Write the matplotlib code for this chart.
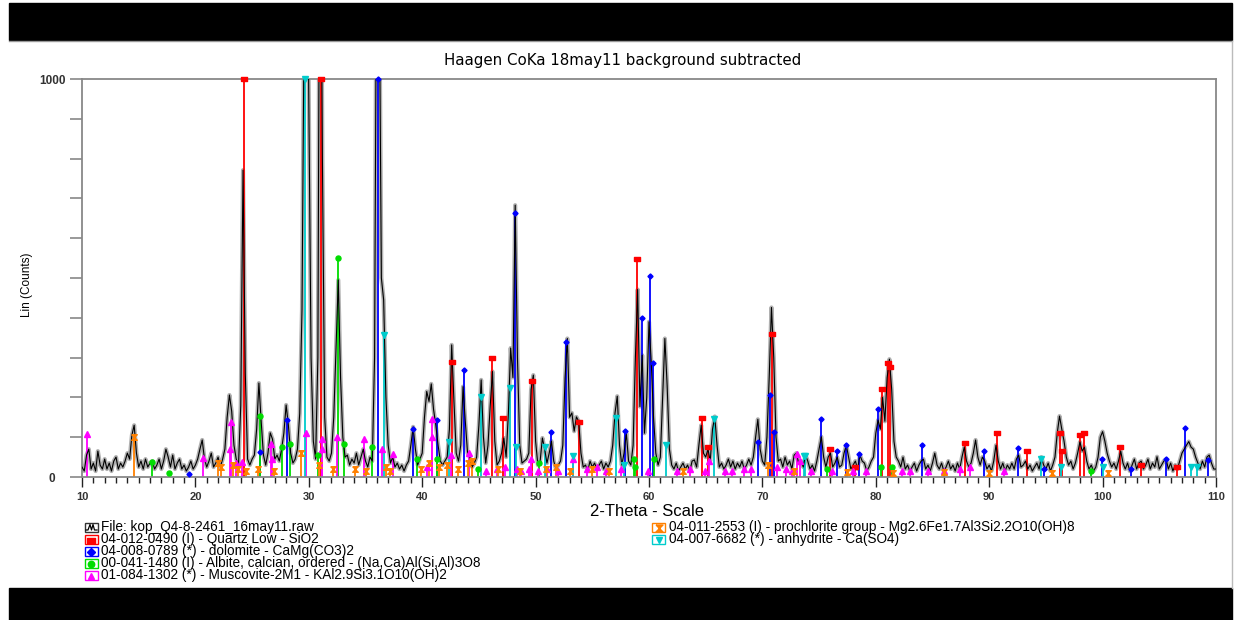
import numpy as np
import matplotlib
matplotlib.use("Agg")
import matplotlib.pyplot as plt
from matplotlib.patches import Rectangle
from matplotlib.lines import Line2D

# measured pattern, counts on a 0.2 deg grid from 10 to 110 (2-theta)
counts = [
    25, 15, 55, 70, 20, 35, 15, 65, 30, 20,          # 10
    45, 20, 35, 15, 40, 50, 20, 35, 25, 40,          # 12
    60, 45, 105, 130, 60, 25, 40, 20, 45, 25,        # 14
    35, 40, 20, 30, 45, 20, 40, 70, 50, 25,          # 16
    55, 20, 35, 45, 20, 30, 15, 25, 40, 20,          # 18
    30, 45, 70, 93, 45, 25, 40, 60, 25, 35,          # 20
    50, 25, 45, 70, 150, 206, 165, 80, 45, 30,       # 22
    180, 771, 260, 45, 30, 45, 55, 120, 236, 140,    # 24
    55, 30, 60, 111, 95, 45, 55, 40, 70, 110,        # 26
    181, 130, 60, 35, 45, 70, 160, 420, 1200, 1600,  # 28
    950, 300, 90, 45, 300, 1800, 800, 150, 50, 40,   # 30
    60, 150, 320, 495, 250, 100, 50, 55, 30, 45,     # 32
    35, 60, 30, 50, 70, 40, 25, 50, 40, 300,         # 34
    1500, 1300, 500, 445, 200, 80, 35, 50, 25, 35,   # 36
    20, 30, 15, 30, 40, 80, 126, 70, 30, 45,         # 38
    60, 150, 215, 190, 234, 170, 130, 80, 40, 30,    # 40
    40, 50, 120, 332, 190, 60, 40, 80, 227, 140,     # 42
    60, 50, 25, 35, 50, 130, 244, 100, 35, 80,       # 44
    180, 265, 90, 30, 40, 60, 98, 50, 160, 324,      # 46
    250, 683, 300, 80, 35, 40, 45, 60, 220, 256,     # 48
    90, 30, 40, 98, 70, 35, 60, 90, 40, 20,          # 50
    30, 40, 80, 250, 348, 150, 161, 115, 151, 140,   # 52
    60, 25, 30, 15, 40, 25, 35, 20, 30, 40,          # 54
    20, 35, 25, 40, 80, 160, 203, 80, 30, 60,        # 56
    110, 40, 30, 80, 300, 471, 177, 306, 110, 200,   # 58
    390, 287, 150, 60, 30, 50, 200, 348, 230, 70,    # 60
    30, 20, 35, 15, 25, 35, 20, 30, 15, 40,          # 62
    43, 25, 80, 130, 60, 50, 70, 40, 120, 152,       # 64
    80, 25, 35, 20, 30, 45, 25, 40, 20, 35,          # 66
    25, 40, 20, 30, 45, 30, 50, 100, 145, 70,        # 68
    40, 30, 100, 250, 426, 300, 100, 40, 45, 25,     # 70
    50, 30, 40, 20, 55, 60, 35, 40, 25, 55,          # 72
    40, 20, 30, 15, 40, 70, 101, 50, 25, 50,         # 74
    60, 25, 35, 50, 25, 30, 60, 80, 50, 20,          # 76
    30, 40, 20, 55, 40, 35, 15, 25, 40, 50,          # 78
    110, 143, 120, 200, 140, 250, 296, 220, 90, 50,  # 80
    40, 25, 50, 20, 30, 15, 25, 35, 15, 30,          # 82
    40, 45, 20, 30, 15, 35, 60, 30, 20, 35,          # 84
    15, 25, 40, 20, 30, 15, 35, 20, 50, 75,          # 86
    40, 25, 35, 60, 93, 50, 30, 50, 40, 20,          # 88
    30, 15, 40, 80, 40, 20, 35, 15, 30, 20,          # 90
    35, 20, 45, 55, 25, 30, 40, 20, 30, 15,          # 92
    25, 35, 20, 50, 30, 20, 35, 15, 30, 50,          # 94
    110, 153, 120, 90, 50, 30, 40, 20, 35, 60,       # 96
    88, 65, 75, 40, 20, 30, 15, 25, 50, 100,         # 98
    114, 90, 60, 40, 25, 35, 20, 40, 65, 35,         # 100
    20, 35, 15, 30, 45, 20, 35, 40, 20, 30,          # 102
    45, 20, 35, 25, 51, 20, 30, 40, 45, 20,          # 104
    35, 15, 30, 20, 40, 60, 70, 80, 89, 75,          # 106
    70, 50, 35, 20, 40, 25, 50, 55, 35, 20,          # 108
    20,
]

# reference patterns (2-theta, intensity)
quartz_pos = [24.26, 31.04, 42.66, 46.15, 47.15, 49.67, 53.79, 58.92, 64.64, 65.2,
              70.86, 75.93, 78.2, 80.54, 81.04, 81.27, 87.85, 90.66, 93.3, 96.2,
              96.4, 97.99, 98.4, 101.55, 103.4, 106.6]
quartz_int = [1200, 1500, 290, 300, 149, 242, 139, 548, 149, 75,
              359, 70, 26, 222, 286, 276, 85, 110, 65, 110,
              65, 105, 110, 75, 30, 25]

dolomite_pos = [19.4, 25.7, 28.07, 36.14, 39.2, 41.31, 43.72, 48.2, 51.35, 52.72,
                57.9, 59.4, 60.09, 60.38, 69.6, 70.71, 71.0, 75.2, 76.58, 77.37,
                78.55, 80.16, 84.1, 89.5, 92.5, 94.8, 99.97, 102.5, 105.57, 107.3, 109.3]
dolomite_int = [8, 62, 143, 1500, 120, 143, 270, 664, 114, 339,
                116, 400, 504, 287, 89, 206, 113, 146, 65, 80,
                58, 172, 80, 65, 73, 20, 45, 20, 45, 122, 43]

albite_pos = [16.19, 17.7, 25.7, 27.6, 28.37, 30.84, 32.57, 33.06, 35.55, 39.55,
              41.3, 44.9, 50.3, 58.7, 58.8, 60.4, 75.7, 80.5, 81.4, 99.0]
albite_int = [38, 11, 153, 75, 82, 56, 550, 82, 76, 45,
              45, 20, 35, 45, 25, 45, 20, 25, 25, 15]

musc_pos = [10.4, 20.7, 23.06, 23.18, 23.56, 24.1, 26.7, 26.75, 29.75, 31.15,
            31.2, 32.5, 34.85, 36.45, 37.43, 40.4, 40.85, 40.87, 42.5, 44.15,
            45.6, 46.6, 47.3, 48.4, 48.7, 49.4, 49.6, 50.2, 51.0, 52.0,
            53.3, 54.5, 55.4, 56.2, 57.5, 59.9, 62.5, 63.6, 64.9, 65.3,
            66.7, 67.3, 68.4, 69.0, 71.3, 72.1, 72.6, 73.05, 73.3, 74.3,
            76.1, 78.0, 79.1, 82.3, 83.0, 84.6, 86.0, 87.4, 88.3, 91.3]
musc_int = [108, 48, 70, 139, 35, 37, 83, 44, 111, 70,
            95, 101, 95, 70, 58, 25, 101, 145, 55, 60,
            15, 20, 25, 20, 15, 20, 45, 15, 20, 15,
            44, 20, 25, 15, 20, 15, 15, 20, 15, 40,
            15, 15, 20, 20, 25, 20, 15, 58, 40, 15,
            15, 15, 15, 15, 15, 15, 15, 20, 25, 15]

chlor_pos = [14.6, 22.0, 22.3, 23.3, 23.8, 24.5, 25.5, 26.9, 29.3, 30.9,
             32.1, 34.1, 35.0, 36.8, 37.2, 39.9, 40.6, 41.5, 42.2, 43.2,
             44.0, 44.4, 46.7, 48.6, 50.9, 51.8, 53.0, 55.0, 56.5, 63.0,
             70.5, 72.8, 77.5, 81.5, 86.0, 90.0, 95.5, 100.5]
chlor_int = [100, 35, 25, 30, 20, 15, 20, 15, 60, 30,
             20, 20, 15, 25, 15, 20, 35, 25, 30, 20,
             35, 40, 20, 15, 20, 25, 15, 20, 15, 15,
             30, 15, 12, 10, 12, 10, 10, 10]

anhy_pos = [29.69, 36.6, 42.4, 45.19, 47.76, 48.3, 50.85, 53.3, 57.12, 57.8,
            61.46, 65.7, 73.7, 73.8, 94.6, 96.3, 100.0, 107.8, 108.3]
anhy_int = [1500, 357, 89, 202, 223, 75, 75, 54, 149, 30,
            80, 146, 54, 54, 45, 25, 25, 25, 25]

legend_left = [
    "File: kop_Q4-8-2461_16may11.raw",
    "04-012-0490 (I) - Quartz Low - SiO2",
    "04-008-0789 (*) - dolomite - CaMg(CO3)2",
    "00-041-1480 (I) - Albite, calcian, ordered - (Na,Ca)Al(Si,Al)3O8",
    "01-084-1302 (*) - Muscovite-2M1 - KAl2.9Si3.1O10(OH)2",
]
legend_right = [
    "04-011-2553 (I) - prochlorite group - Mg2.6Fe1.7Al3Si2.2O10(OH)8",
    "04-007-6682 (*) - anhydrite - Ca(SO4)",
]

W, H = 1234, 620
FONT = ["Liberation Sans", "DejaVu Sans"]
plt.rcParams["font.family"] = FONT

hourglass = [(-1, 1), (1, 1), (-1, -1), (1, -1), (-1, 1)]
rect = [(-1, -0.6), (1, -0.6), (1, 0.6), (-1, 0.6), (-1, -0.6)]

phases = [
    (quartz_pos, quartz_int, "#ff0000", rect, 5),
    (dolomite_pos, dolomite_int, "#0000ff", "D", 2.6),
    (albite_pos, albite_int, "#00dd00", "o", 3.6),
    (musc_pos, musc_int, "#ff00ff", "^", 4),
    (chlor_pos, chlor_int, "#ff8000", hourglass, 4),
    (anhy_pos, anhy_int, "#00cccc", "v", 4),
]


def fx(px):
    return px / W


def fy(py):
    return 1 - py / H


fig = plt.figure(figsize=(W / 100, H / 100), dpi=100)

# black frame bars
fig.add_artist(Rectangle((fx(9), fy(40)), fx(1232) - fx(9), fy(3) - fy(40),
                         transform=fig.transFigure, color="black", zorder=0))
fig.add_artist(Rectangle((fx(9), fy(620)), fx(1232) - fx(9), fy(588) - fy(620),
                         transform=fig.transFigure, color="black", zorder=0))
fig.add_artist(Line2D([fx(9), fx(1232)], [fy(41), fy(41)], color="#999999", lw=1))
fig.add_artist(Line2D([fx(1232), fx(1232)], [fy(41), fy(588)], color="#bbbbbb", lw=1))

ax = fig.add_axes([fx(82), fy(477), fx(1216) - fx(82), fy(79) - fy(477)])

tt = np.linspace(10, 110, len(counts))
ax.plot(tt, counts, color="#b0b0b0", lw=3, zorder=1)
for pos, inten, col, mk, ms in phases:
    ax.vlines(pos, 0, np.minimum(inten, 1000), color=col, lw=1.3, zorder=2)
ax.plot(tt, counts, color="black", lw=0.8, zorder=3)
for pos, inten, col, mk, ms in phases:
    ax.plot(pos, np.minimum(inten, 1000), ls="none", marker=mk, ms=ms,
            color=col, mec=col, clip_on=False, zorder=4)

ax.set_xlim(10, 110)
ax.set_ylim(0, 1000)
ax.set_xticks(range(10, 111, 10))
ax.set_xticks(range(10, 111, 1), minor=True)
ax.set_yticks(range(0, 1001, 100))
ax.set_yticklabels(["0"] + [""] * 9 + ["1000"])
ax.tick_params(axis="x", which="major", length=7, width=1, color="#222222",
               labelsize=8, pad=4, labelcolor="#333333")
ax.tick_params(axis="x", which="minor", length=4, width=1, color="#222222")
ax.tick_params(axis="y", which="major", length=9, width=1.2, color="#888888",
               labelsize=8.5, pad=12.5, labelcolor="#333333")
for lab in ax.get_xticklabels():
    lab.set_fontweight("bold")
for lab in ax.get_yticklabels():
    lab.set_fontweight("bold")
    lab.set_horizontalalignment("center")
for side in ["left", "right", "top", "bottom"]:
    ax.spines[side].set_color("#888888")
    ax.spines[side].set_linewidth(1.3)

fig.text(0.5045, fy(60), "Haagen CoKa 18may11 background subtracted",
         ha="center", va="center", fontsize=10.8, family=["DejaVu Sans"])
fig.text(fx(647), fy(512), "2-Theta - Scale", ha="center", va="center",
         fontsize=12)
fig.text(fx(27), fy(285), "Lin (Counts)", ha="center", va="center",
         rotation=90, fontsize=8.5, family=["Liberation Sans Narrow", "Liberation Sans"])

# legend
box_w, box_h = 13, 9
LFS = 9.8


def legend_box(x0, yc, col):
    fig.add_artist(Rectangle((fx(x0), fy(yc + box_h / 2)), box_w / W, box_h / H,
                             transform=fig.transFigure, fill=False,
                             edgecolor=col, lw=1))


legend_box(85, 527.5, "#333333")
wx = np.array([86, 88, 90, 91.5, 93, 94.5, 96, 97])
wy = np.array([530, 530, 524.5, 530, 524.5, 530, 530, 530])
fig.add_artist(Line2D(fx(wx), fy(wy), color="black", lw=0.9))
fig.text(fx(101), fy(527.5), legend_left[0], va="center", fontsize=LFS)

for i, (pos, inten, col, mk, ms) in enumerate(phases[:4]):
    yc = 539.5 + 12 * i
    legend_box(85, yc, col)
    fig.add_artist(Line2D([fx(91.5)], [fy(yc)], ls="none", marker=mk, ms=ms + 1,
                          color=col, mec=col))
    fig.text(fx(101), fy(yc), legend_left[i + 1], va="center", fontsize=LFS)

for i, (pos, inten, col, mk, ms) in enumerate(phases[4:]):
    yc = 527.5 + 12 * i
    legend_box(652, yc, col)
    fig.add_artist(Line2D([fx(658.5)], [fy(yc)], ls="none", marker=mk, ms=ms + 1,
                          color=col, mec=col))
    fig.text(fx(669), fy(yc), legend_right[i], va="center", fontsize=LFS)

fig.savefig("out.png", dpi=100, facecolor="white")
